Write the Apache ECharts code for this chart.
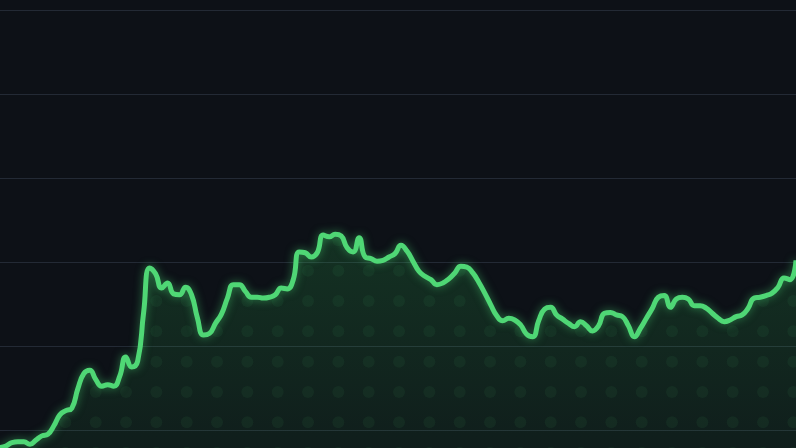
<!DOCTYPE html>
<html>
<head>
<meta charset="utf-8">
<style>
  html, body { margin: 0; padding: 0; background: #0d1117; }
  #chart { width: 796px; height: 448px; }
</style>
<script src="https://cdn.jsdelivr.net/npm/echarts@6/dist/echarts.min.js"></script>
</head>
<body>
<div id="chart"></div>
<script>
// values, one per step along x
const values = [
  79, 81, 85, 86, 86, 83, 88, 93, 95, 105,
  118, 123, 126, 149, 167, 171, 160, 152, 154, 152,
  164, 187, 175, 182, 240, 293, 286, 269, 275, 262,
  261, 270, 261, 233, 213, 215, 227, 238, 257, 273,
  273, 265, 258, 258, 257, 258, 261, 269, 268, 279,
  312, 311, 306, 311, 332, 330, 333, 331, 317, 312,
  329, 306, 304, 301, 302, 306, 310, 320, 313, 301,
  289, 283, 279, 273, 275, 280, 287, 295, 294, 287,
  276, 263, 249, 236, 230, 233, 231, 225, 214, 211,
  230, 244, 246, 237, 232, 227, 223, 229, 224, 218,
  224, 239, 240, 237, 235, 224, 211, 221, 233, 245,
  258, 260, 246, 256, 258, 256, 248, 248, 245, 239,
  233, 229, 231, 235, 237, 245, 257, 258, 260, 263,
  270, 281, 279, 302
]

const categories = []
for (let i = 0; i < values.length; i++) {
  categories.push(String(i + 1))
}

// faint dot texture for the area
const makeDots = () => {
  const size = 91
  const step = size / 3
  const cv = document.createElement('canvas')
  cv.width = size
  cv.height = size
  const ctx = cv.getContext('2d')
  ctx.fillStyle = 'rgba(90, 220, 130, 0.085)'
  for (let r = -1; r <= 3; r++) {
    for (let c = -1; c <= 3; c++) {
      ctx.beginPath()
      ctx.arc(4.7 + c * step, 28 + r * step, 6, 0, Math.PI * 2)
      ctx.fill()
    }
  }
  return cv
}

const chart = echarts.init(document.getElementById('chart'), null, {renderer: 'canvas'})

chart.setOption({
  backgroundColor: '#0d1117',
  animation: false,
  grid: {
    top: 10,
    left: 0,
    right: 0,
    height: 504,
    outerBoundsMode: 'none',
  },
  xAxis: {
    type: 'category',
    boundaryGap: false,
    data: categories,
    axisLine: {show: false},
    axisTick: {show: false},
    axisLabel: {show: false},
  },
  yAxis: {
    type: 'value',
    min: 0,
    max: 600,
    interval: 100,
    axisLine: {show: false},
    axisTick: {show: false},
    axisLabel: {show: false},
    splitLine: {
      lineStyle: {
        color: '#232a35',
        width: 1,
      },
    },
  },
  series: [{
    type: 'line',
    data: values,
    smooth: true,
    showSymbol: false,
    z: 1,
    lineStyle: {width: 0},
    areaStyle: {
      color: new echarts.graphic.LinearGradient(0, 0, 0, 1, [{
        offset: 0,
        color: 'rgba(52, 199, 89, 0.26)',
      }, {
        offset: 1,
        color: 'rgba(52, 199, 89, 0.05)',
      }]),
    },
  }, {
    type: 'line',
    data: values,
    smooth: true,
    showSymbol: false,
    z: 2,
    lineStyle: {width: 0},
    areaStyle: {
      color: {image: makeDots(), repeat: 'repeat'},
    },
  }, {
    type: 'line',
    data: values,
    smooth: true,
    showSymbol: false,
    z: 3,
    lineStyle: {
      color: '#4fd775',
      width: 5,
      shadowColor: 'rgba(76, 222, 120, 0.5)',
      shadowBlur: 8,
    },
  }],
})
</script>
</body>
</html>
